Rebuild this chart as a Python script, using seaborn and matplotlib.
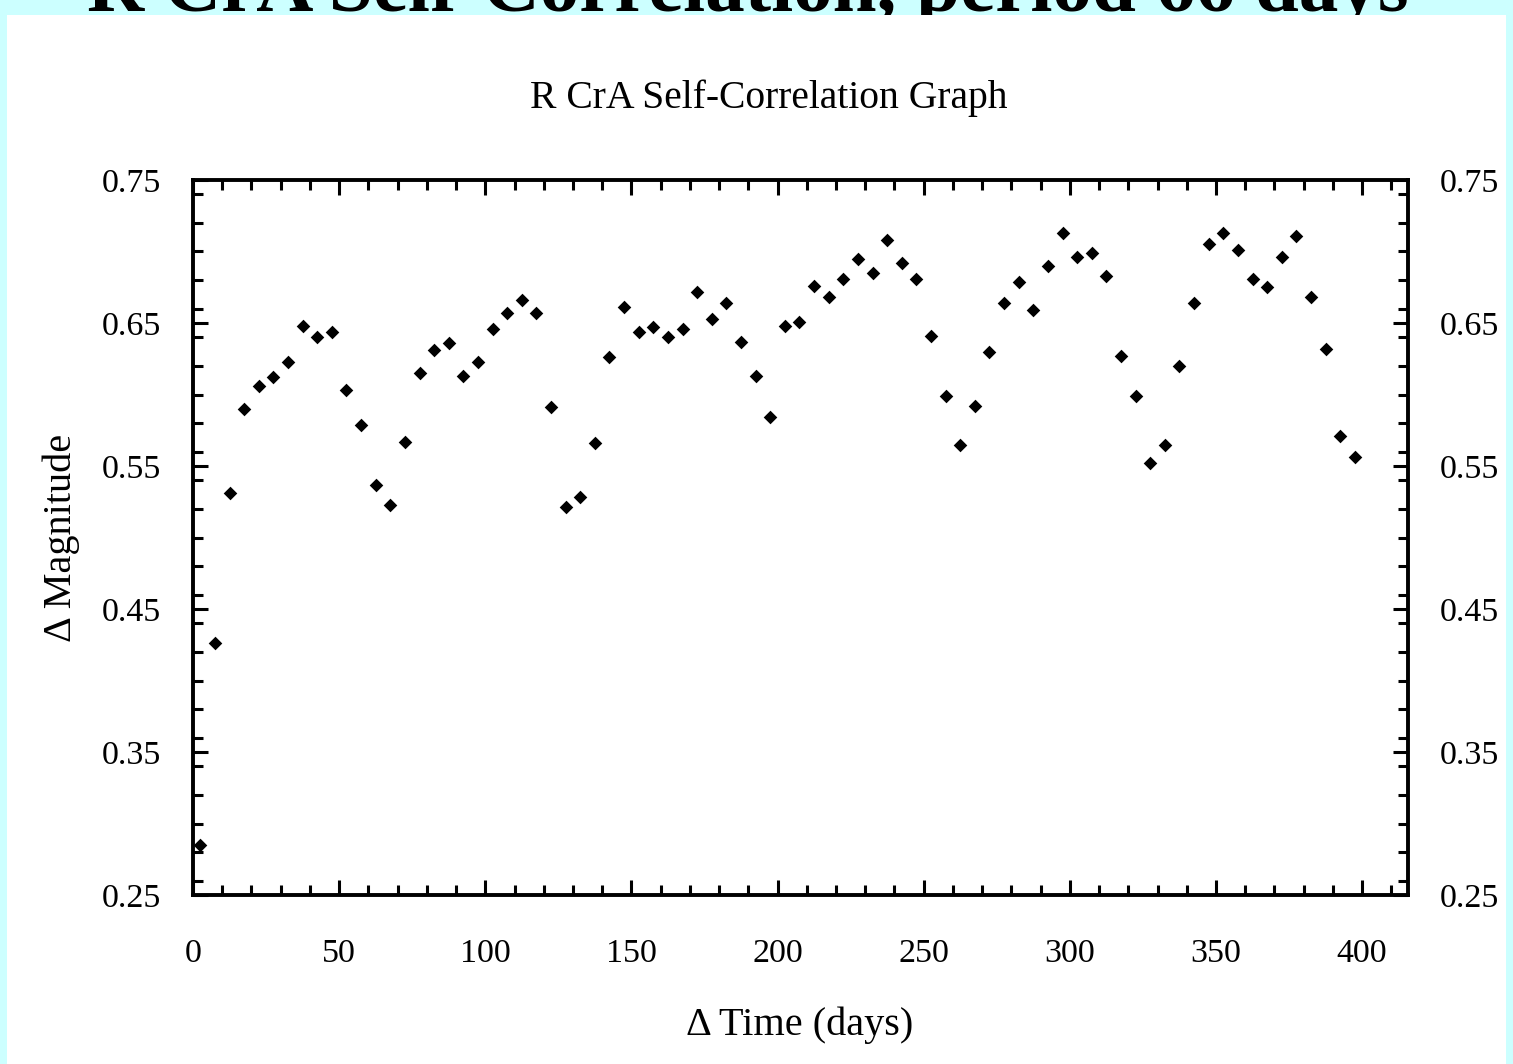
import matplotlib
matplotlib.use("Agg")
import matplotlib.pyplot as plt
from matplotlib.patches import Rectangle
from matplotlib.ticker import MultipleLocator
import pandas as pd
import seaborn as sns

# ---------------- data ----------------
delta_time = [2.5, 7.5, 12.5, 17.5, 22.5, 27.5, 32.5, 37.5, 42.5, 47.5,
              52.5, 57.5, 62.5, 67.5, 72.5, 77.5, 82.5, 87.5, 92.5, 97.5,
              102.5, 107.5, 112.5, 117.5, 122.5, 127.5, 132.5, 137.5, 142.5, 147.5,
              152.5, 157.5, 162.5, 167.5, 172.5, 177.5, 182.5, 187.5, 192.5, 197.5,
              202.5, 207.5, 212.5, 217.5, 222.5, 227.5, 232.5, 237.5, 242.5, 247.5,
              252.5, 257.5, 262.5, 267.5, 272.5, 277.5, 282.5, 287.5, 292.5, 297.5,
              302.5, 307.5, 312.5, 317.5, 322.5, 327.5, 332.5, 337.5, 342.5, 347.5,
              352.5, 357.5, 362.5, 367.5, 372.5, 377.5, 382.5, 387.5, 392.5, 397.5]
delta_mag = [0.285, 0.426, 0.531, 0.590, 0.606, 0.612, 0.623, 0.648, 0.640, 0.644,
             0.603, 0.579, 0.537, 0.523, 0.567, 0.615, 0.631, 0.636, 0.613, 0.623,
             0.646, 0.657, 0.666, 0.657, 0.591, 0.521, 0.528, 0.566, 0.626, 0.661,
             0.644, 0.647, 0.640, 0.646, 0.672, 0.653, 0.664, 0.637, 0.613, 0.584,
             0.648, 0.651, 0.676, 0.668, 0.681, 0.695, 0.685, 0.708, 0.692, 0.681,
             0.641, 0.599, 0.565, 0.592, 0.630, 0.664, 0.679, 0.659, 0.690, 0.713,
             0.696, 0.699, 0.683, 0.627, 0.599, 0.552, 0.565, 0.620, 0.664, 0.705,
             0.713, 0.701, 0.681, 0.675, 0.696, 0.711, 0.668, 0.632, 0.571, 0.556]
x_ticks = [0, 50, 100, 150, 200, 250, 300, 350, 400]
y_ticks = [0.25, 0.35, 0.45, 0.55, 0.65, 0.75]
y_tick_labels = ["0.25", "0.35", "0.45", "0.55", "0.65", "0.75"]

page_title = "R CrA Self-Correlation, period 66 days"
chart_title = "R CrA Self-Correlation Graph"
x_label = "\u0394 Time (days)"
y_label = "\u0394 Magnitude"

df = pd.DataFrame({"t": delta_time, "m": delta_mag})

# ---------------- style ----------------
sns.set_theme(style="ticks")
plt.rcParams["font.family"] = ["Liberation Serif", "DejaVu Serif"]

W, H = 1513, 1064
fig = plt.figure(figsize=(W / 100, H / 100), dpi=100, facecolor="#ccffff")

# white page panel (drawn above the cut-off page heading)
fig.add_artist(Rectangle((7 / W, 0), (1506 - 7) / W, 1 - 15 / H,
                         transform=fig.transFigure, facecolor="white",
                         edgecolor="none", zorder=-1))
fig.text(748 / W, 1 - 11 / H, page_title, fontsize=57, fontweight="bold",
         ha="center", va="baseline", color="black", zorder=-2)

ax = fig.add_axes([193 / W, 1 - 895 / H, (1408 - 193) / W, (895 - 180) / H])
ax.set_facecolor("white")

sns.scatterplot(data=df, x="t", y="m", marker="D", s=48, color="black",
                linewidth=0, ax=ax, legend=False)

ax.set_xlim(0, 415.7)
ax.set_ylim(0.25, 0.75)
ax.set_xticks(x_ticks)
ax.set_yticks(y_ticks)
ax.set_yticklabels(y_tick_labels)
ax.xaxis.set_minor_locator(MultipleLocator(10))
ax.yaxis.set_minor_locator(MultipleLocator(0.02))
ax.set_xlabel("")
ax.set_ylabel("")

for s in ax.spines.values():
    s.set_visible(True)
    s.set_linewidth(2.8)
    s.set_color("black")

ax.tick_params(which="both", direction="in", top=True, right=True,
               labelright=True, colors="black", width=2.2)
ax.tick_params(which="major", length=11)
ax.tick_params(which="minor", length=7.5)
ax.tick_params(axis="x", which="major", labelsize=24.5, pad=31)
ax.tick_params(axis="y", which="major", labelsize=24.5, pad=23)

fig.text(768.5 / W, 1 - 108 / H, chart_title, fontsize=28.5,
         ha="center", va="baseline", color="black")
fig.text(799.5 / W, 1 - 1035 / H, x_label, fontsize=29,
         ha="center", va="baseline", color="black")
fig.text(71 / W, 1 - 538 / H, y_label, fontsize=29, rotation=90,
         rotation_mode="anchor", ha="center", va="baseline", color="black")

fig.savefig("out.png", dpi=100, facecolor=fig.get_facecolor())
